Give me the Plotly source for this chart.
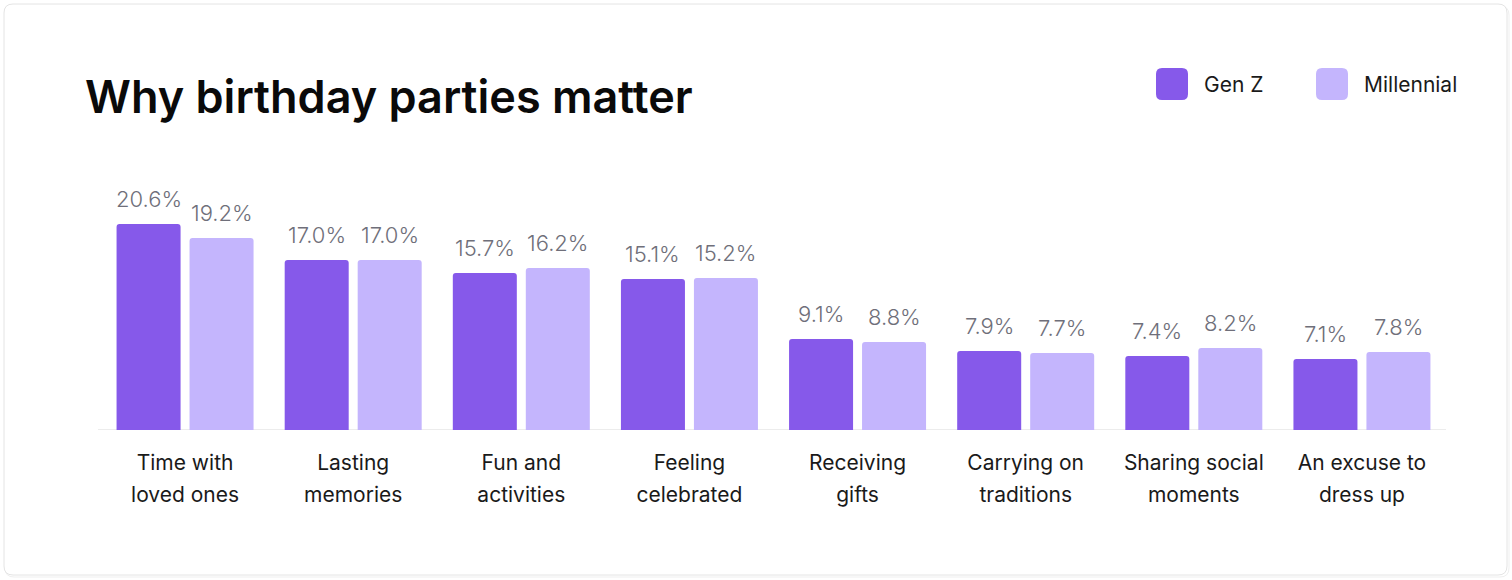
import plotly.graph_objects as go

categories = ["Time with loved ones", "Lasting memories", "Fun and activities", "Feeling celebrated",
              "Receiving gifts", "Carrying on traditions", "Sharing social moments", "An excuse to dress up"]
tick_line1 = ["Time with", "Lasting", "Fun and", "Feeling", "Receiving", "Carrying on", "Sharing social", "An excuse to"]
tick_line2 = ["loved ones", "memories", "activities", "celebrated", "gifts", "traditions", "moments", "dress up"]
gen_z = [20.6, 17.0, 15.7, 15.1, 9.1, 7.9, 7.4, 7.1]
millennial = [19.2, 17.0, 16.2, 15.2, 8.8, 7.7, 8.2, 7.8]
series_names = ["Gen Z", "Millennial"]
colors = ["#8659EA", "#C4B5FD"]

W, H = 1512, 580
L, R, T, B = 101, 66, 210, 150
PW, PH = W - L - R, H - T - B
FONT = "Inter"

def px_x(x):
    return (x - L) / PW

def px_y(y):
    return (H - B - y) / PH

fig = go.Figure()
for name, vals, col in zip(series_names, [gen_z, millennial], colors):
    fig.add_trace(go.Bar(name=name, x=categories, y=vals, marker_color=col,
                         marker_line_width=0, showlegend=False, hoverinfo="x+y"))

# invisible helper trace for second tick-label line axis
fig.add_trace(go.Scatter(x=categories, y=gen_z, xaxis="x2", mode="markers",
                         marker=dict(opacity=0), showlegend=False, hoverinfo="skip"))

annotations = []
for vals, shift in [(gen_z, -36.5), (millennial, 36.5)]:
    for c, v in zip(categories, vals):
        annotations.append(dict(x=c, y=v, xref="x", yref="y", text=f"{v:.1f}%",
                                showarrow=False, xshift=shift, yshift=10, yanchor="bottom",
                                font=dict(family=FONT, size=22, color="#6F6F7A", weight=300)))

# legend text
for name, tx in zip(series_names, [1202, 1362]):
    annotations.append(dict(x=px_x(tx), y=px_y(84), xref="paper", yref="paper", text=name,
                            showarrow=False, xanchor="left", yanchor="middle",
                            font=dict(family=FONT, size=21, color="#1A1A1A")))

def rrect(x0, y0, x1, y1, r):
    X = lambda v: px_x(v)
    Y = lambda v: px_y(v)
    return (f"M {X(x0+r)},{Y(y0)} L {X(x1-r)},{Y(y0)} Q {X(x1)},{Y(y0)} {X(x1)},{Y(y0+r)} "
            f"L {X(x1)},{Y(y1-r)} Q {X(x1)},{Y(y1)} {X(x1-r)},{Y(y1)} "
            f"L {X(x0+r)},{Y(y1)} Q {X(x0)},{Y(y1)} {X(x0)},{Y(y1-r)} "
            f"L {X(x0)},{Y(y0+r)} Q {X(x0)},{Y(y0)} {X(x0+r)},{Y(y0)} Z")

shapes = [
    dict(type="path", path=rrect(5, 6, 1509, 577, 9), xref="paper", yref="paper",
         line=dict(color="#EFEFEF", width=1), fillcolor="rgba(0,0,0,0)", layer="below"),
    dict(type="path", path=rrect(4, 4, 1507, 575, 9), xref="paper", yref="paper",
         line=dict(color="#E4E4E4", width=1), fillcolor="white", layer="below"),
    # baseline axis line
    dict(type="line", xref="paper", yref="y", x0=px_x(98), x1=px_x(1446), y0=0, y1=0,
         line=dict(color="#ECECEC", width=2), layer="below"),
]
for col, sx in zip(colors, [1156, 1316]):
    shapes.append(dict(type="path", path=rrect(sx, 68, sx + 32, 100, 6), xref="paper", yref="paper",
                       line=dict(width=0), fillcolor=col, layer="above"))

fig.update_layout(
    width=W, height=H,
    margin=dict(l=L, r=R, t=T, b=B, autoexpand=False),
    paper_bgcolor="white", plot_bgcolor="rgba(0,0,0,0)",
    barmode="group", bargap=0.1317, bargroupgap=0.123, barcornerradius=3,
    title=dict(text="Why birthday parties matter", xref="container", yref="container",
               x=85 / W, xanchor="left", y=1 - 97 / H, yanchor="middle",
               font=dict(family=FONT, size=45, color="#0A0A0A", weight=600)),
    xaxis=dict(type="category", showline=False,
               showgrid=False, zeroline=False, ticks="", tickmode="array",
               tickvals=categories, ticktext=tick_line1, ticklabelstandoff=18,
               tickfont=dict(family=FONT, size=21, color="#1A1A1A"), fixedrange=True),
    xaxis2=dict(type="category", overlaying="x", anchor="y", side="bottom", matches="x",
                showline=False, showgrid=False, zeroline=False, ticks="", tickmode="array",
                tickvals=categories, ticktext=tick_line2, ticklabelstandoff=50,
                tickfont=dict(family=FONT, size=21, color="#1A1A1A")),
    yaxis=dict(range=[0, 22], visible=False, fixedrange=True),
    annotations=annotations, shapes=shapes,
    showlegend=False,
)

fig.write_html("out.html", config=dict(displayModeBar=False),
               post_script="document.body.style.margin='0';document.body.style.overflow='hidden';")
